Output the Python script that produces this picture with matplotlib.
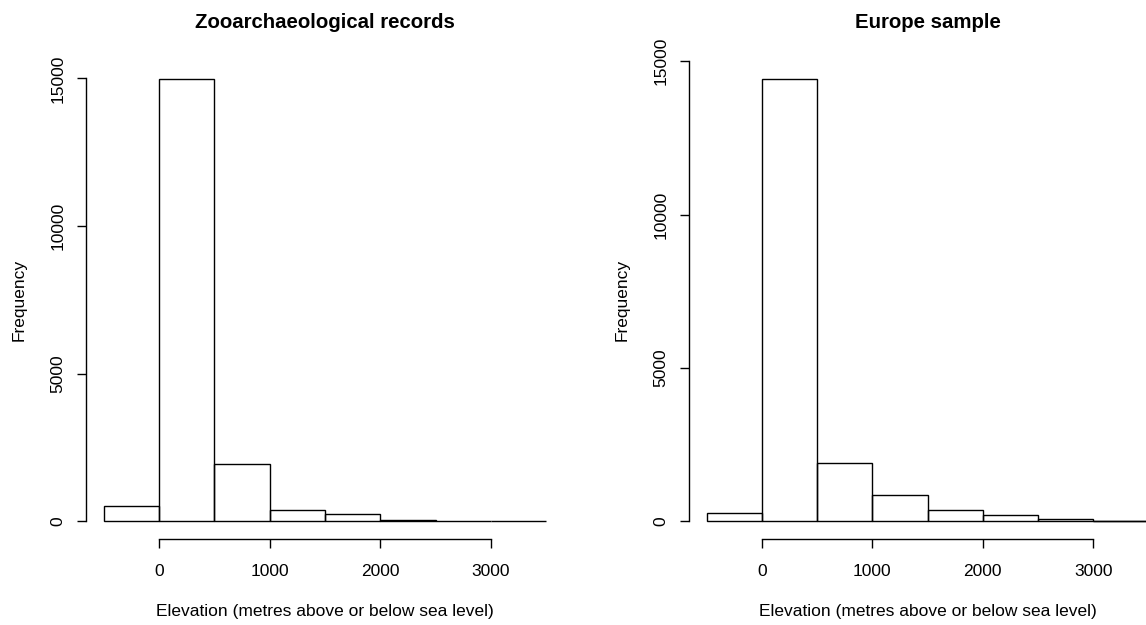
import matplotlib.pyplot as plt

# bin edges shared by both histograms (metres)
bin_left = [-500, 0, 500, 1000, 1500, 2000, 2500, 3000]
bin_width = 500

# counts
zoo_counts = [507, 14990, 1950, 395, 260, 40, 20, 3]
europe_counts = [274, 14430, 1912, 860, 381, 208, 78, 25]

x_ticks = [0, 1000, 2000, 3000]
y_ticks = [0, 5000, 10000, 15000]

plt.rcParams['font.family'] = ['Liberation Sans', 'DejaVu Sans']

W, H = 1146, 625
fig = plt.figure(figsize=(W / 100, H / 100), dpi=100)


def r_hist(ax, counts, title):
    ax.bar(bin_left, counts, width=bin_width, align='edge',
           fill=False, edgecolor='black', linewidth=1.0)
    top = max(counts)
    ax.set_xlim(-660, 3660)
    ax.set_ylim(-0.04 * top, top * 1.04)
    for s in ['top', 'right']:
        ax.spines[s].set_visible(False)
    ax.spines['left'].set_bounds(0, 15000)
    ax.spines['bottom'].set_bounds(0, 3000)
    ax.spines['left'].set_linewidth(1.0)
    ax.spines['bottom'].set_linewidth(1.0)
    ax.set_xticks(x_ticks)
    ax.set_yticks(y_ticks)
    ax.set_yticklabels([str(v) for v in y_ticks], rotation=90, va='center')
    ax.tick_params(axis='both', length=6.7, width=1.0, labelsize=12.5)
    ax.tick_params(axis='x', pad=11)
    ax.tick_params(axis='y', pad=8)
    ax.set_xlabel('Elevation (metres above or below sea level)', fontsize=12.5, labelpad=18)
    ax.set_ylabel('Frequency', fontsize=12.5, labelpad=17)
    ax.set_title(title, fontsize=14.7, fontweight='bold', pad=24)


# axes placed in pixel terms of the reference
ax1 = fig.add_axes([86 / W, (H - 539) / H, 478 / W, 478 / H])
r_hist(ax1, zoo_counts, 'Zooarchaeological records')

ax2 = fig.add_axes([689 / W, (H - 539) / H, 477 / W, 478 / H])
r_hist(ax2, europe_counts, 'Europe sample')

fig.savefig('out.png', dpi=100)
